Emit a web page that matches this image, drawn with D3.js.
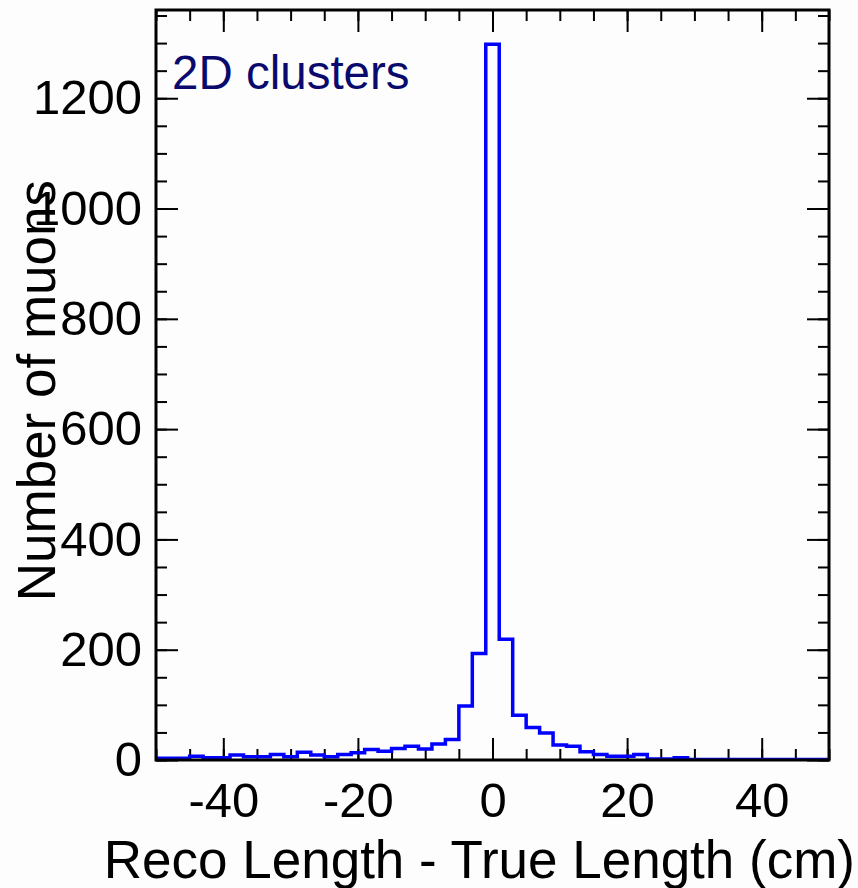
<!DOCTYPE html>
<html>
<head>
<meta charset="utf-8">
<script src="https://cdn.jsdelivr.net/npm/d3@7"></script>
<style>
  body { margin: 0; background: #fdfdfd; }
  text { font-family: "Liberation Sans", Arial, Helvetica, sans-serif; }
</style>
</head>
<body>
<svg id="vis"></svg>
<script>

// histogram bins: centre of each 2 cm bin, and counts
var binCenters = d3.range(-50, 51, 2);
var binWidth = 2;
var counts = [
    3, 3, 3, 7, 4, 4, 9, 6, 6, 10,
    6, 14, 9, 6, 10, 13, 19, 16, 21, 25,
    20, 29, 37, 98, 193, 1298, 219, 81, 59, 49,
    27, 25, 15, 10, 7, 7, 10, 2, 2, 4,
    1, 1, 1, 1, 1, 1, 1, 1, 1, 1, 1
];

var xMajor = [-40, -20, 0, 20, 40];
var xMinor = d3.range(-50, 51, 5);
var yMajor = [0, 200, 400, 600, 800, 1000, 1200];
var yMinor = d3.range(0, 1351, 50);

var xTitle = "Reco Length - True Length (cm)";
var yTitle = "Number of muons";
var label = "2D clusters";


function draw(){

    var margin = {top: 10, right: 29, bottom: 128, left: 156},
        width = 858 - margin.left - margin.right,
        height = 888 - margin.top - margin.bottom;

    var x = d3.scaleLinear()
        .domain([-50, 50])
        .range([0, width]);
    var y = d3.scaleLinear()
        .domain([0, 1360])
        .range([height, 0]);

    var svg = d3.select("#vis")
        .attr("width", 858)
        .attr("height", 888);

    svg.append("defs")
        .append("clipPath")
        .attr("id", "clip")
        .append("rect")
        .attr("width", width)
        .attr("height", height);

    var g = svg.append("g")
        .attr("transform", "translate(" + margin.left + "," + margin.top + ")");

    //ticks point inward, like ROOT
    var major = 22, minor = 11;
    var fmt = function(d) {return String(d);};   // plain hyphen, not the unicode minus

    g.append("g")
        .attr("transform", "translate(0," + height + ")")
        .call(d3.axisBottom(x).tickValues(xMinor).tickSize(-minor).tickFormat(""));
    g.append("g")
        .attr("class", "xlab")
        .attr("transform", "translate(0," + height + ")")
        .call(d3.axisBottom(x).tickValues(xMajor).tickSize(-major).tickPadding(22).tickFormat(fmt));
    g.append("g")
        .call(d3.axisTop(x).tickValues(xMinor).tickSize(-minor).tickFormat(""));
    g.append("g")
        .call(d3.axisTop(x).tickValues(xMajor).tickSize(-major).tickFormat(""));

    g.append("g")
        .call(d3.axisLeft(y).tickValues(yMinor).tickSize(-minor).tickFormat(""));
    g.append("g")
        .attr("class", "ylab")
        .call(d3.axisLeft(y).tickValues(yMajor).tickSize(-major).tickPadding(14).tickFormat(fmt));
    g.append("g")
        .attr("transform", "translate(" + width + ",0)")
        .call(d3.axisRight(y).tickValues(yMinor).tickSize(-minor).tickFormat(""));
    g.append("g")
        .attr("transform", "translate(" + width + ",0)")
        .call(d3.axisRight(y).tickValues(yMajor).tickSize(-major).tickFormat(""));

    g.selectAll(".domain").remove();
    g.selectAll(".tick line")
        .attr("stroke", "#000")
        .attr("stroke-width", 2);
    g.selectAll(".xlab text, .ylab text")
        .attr("font-size", 49)
        .attr("font-family", "Liberation Sans, Arial, sans-serif")
        .attr("fill", "#000");

    //histogram outline
    var pts = [];
    binCenters.forEach(function(c, i) {
        pts.push([c - binWidth / 2, counts[i]]);
        pts.push([c + binWidth / 2, counts[i]]);
    });

    var line = d3.line()
        .x(function(d) {return x(d[0]);})
        .y(function(d) {return y(d[1]);});

    g.append("path")
        .datum(pts)
        .attr("clip-path", "url(#clip)")
        .attr("d", line)
        .attr("fill", "none")
        .attr("stroke", "#0000ff")
        .attr("stroke-width", 3.5)
        .attr("stroke-linejoin", "miter");

    //frame
    g.append("rect")
        .attr("width", width)
        .attr("height", height)
        .attr("fill", "none")
        .attr("stroke", "#000")
        .attr("stroke-width", 3);

    //texts
    g.append("text")
        .text(label)
        .attr("x", 16)
        .attr("y", 79)
        .attr("font-size", 47.5)
        .attr("fill", "#0a0a6e");

    svg.append("text")
        .text(xTitle)
        .attr("x", 855)
        .attr("y", 878)
        .attr("text-anchor", "end")
        .attr("font-size", 53)
        .attr("fill", "#000");

    svg.append("text")
        .text(yTitle)
        .attr("transform", "translate(55,180) rotate(-90)")
        .attr("text-anchor", "end")
        .attr("font-size", 53)
        .attr("fill", "#000");
}

draw();
</script>
</body>
</html>
